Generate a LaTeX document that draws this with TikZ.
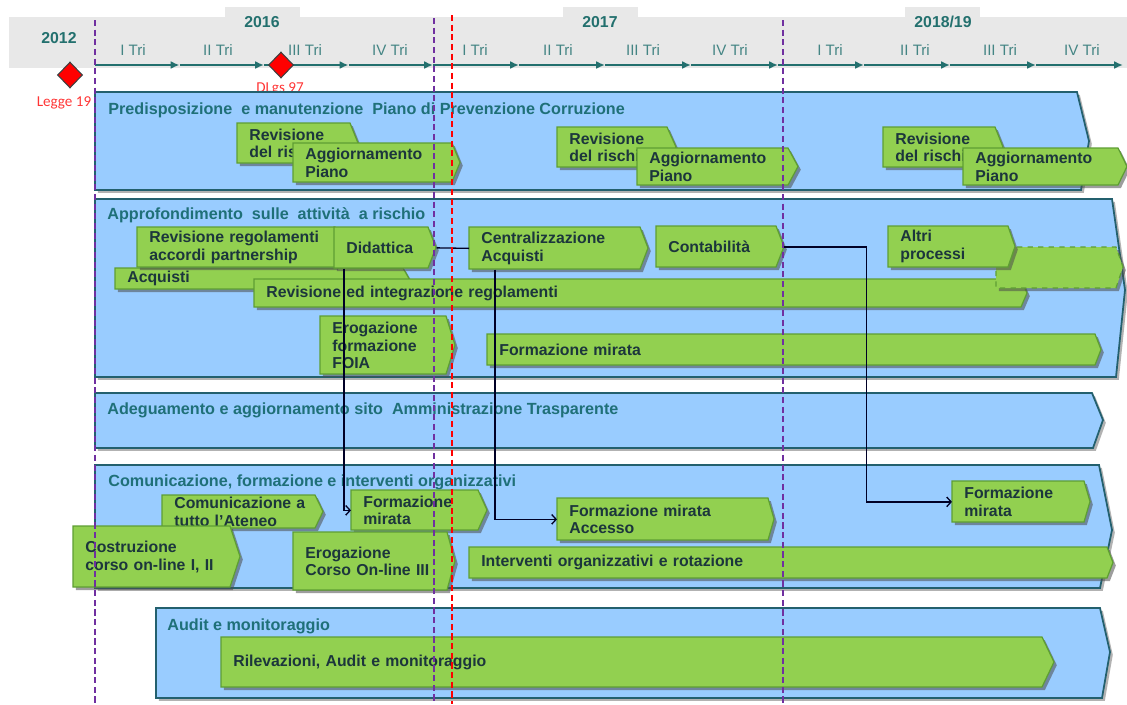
\documentclass[tikz,border=0pt]{standalone}
\usepackage{fontspec}
\setmainfont{Liberation Sans}
\newfontfamily\notefont{Carlito}
\usetikzlibrary{arrows.meta,calc,positioning,shapes.geometric,shadows}
\definecolor{panelblue}{HTML}{99CCFF}
\definecolor{paneledge}{HTML}{23606E}
\definecolor{titleteal}{HTML}{1F7078}
\definecolor{bargreen}{HTML}{92D050}
\definecolor{baredge}{HTML}{5E9E33}
\definecolor{bartext}{HTML}{1C363C}
\definecolor{headgray}{HTML}{E8E8E8}
\definecolor{axisteal}{HTML}{23706E}
\definecolor{cutpurple}{HTML}{7030A0}
\definecolor{legred}{HTML}{FF3535}
\hyphenpenalty=10000
\exhyphenpenalty=10000

\begin{document}
\begin{tikzpicture}[x=0.02cm,y=-0.02cm,
  panel/.style={fill=panelblue,draw=paneledge,line width=1pt,
    drop shadow={shadow xshift=1.6pt,shadow yshift=-1.6pt,fill=black!60,opacity=.5}},
  ptitle/.style={anchor=west,inner sep=0pt,text=titleteal,font=\fontsize{9.2}{10.4}\selectfont\bfseries},
  gbar/.style={fill=bargreen,draw=baredge,line width=.7pt,
    drop shadow={shadow xshift=1.6pt,shadow yshift=-1.8pt,fill=black!70,opacity=.55}},
  gtext/.style={anchor=north west,inner xsep=0.24cm,inner ysep=0pt,align=left,
    text=bartext,font=\fontsize{9}{10.2}\selectfont\bfseries},
  quarter/.style={text=axisteal!85,font=\fontsize{8.6}{10}\selectfont},
  year/.style={text=axisteal,font=\fontsize{9}{10}\selectfont\bfseries},
  milestone/.style={diamond,fill=red,draw=black!75,line width=.6pt,inner sep=0pt,
    minimum width=0.5cm,minimum height=0.52cm},
  lawnote/.style={text=legred,font=\notefont\fontsize{8.6}{10}\selectfont},
  cut/.style={line width=1.1pt,dash pattern=on 3.5pt off 2pt},
  link/.style={draw=black!85!blue,line width=.75pt},
  >={Straight Barb[length=2.5pt,width=5.5pt]}]
  \useasboundingbox (0,0) rectangle (1127,704);

  % header with years and quarters
  \fill[headgray] (9,17) rectangle (1127,68);
  \foreach \xa in {225,563,905}
    \fill[headgray] (\xa,7) rectangle ++(75,10);
  \node[year] (y12) at (59,38) {2012};
  \node[year] (y16) at (262,22) {2016};
  \node[year] (y17) at (600,22) {2017};
  \node[year] (y18) at (943,22) {2018/19};
  \foreach \xq/\lab [count=\i] in {133/I,218/II,305/III,390/IV,475/I,558/II,643/III,730/IV,830/I,915/II,1000/III,1082/IV}
    \node[quarter] (q\i) at (\xq,50) {\lab\ Tri};
  \foreach \xa/\xb in {95/179.5,179.5/264,264/348.5,348.5/433,433/519,519/605,605/691,691/778,778/864,864/950,950/1036,1036/1123}
    \draw[axisteal,line width=1.3pt,-{Latex[length=5pt,width=4.5pt]}] (\xa,65) -- (\xb,65);

  % milestones
  \node[lawnote] (dlgs) at (280,89) {DLgs 97};
  \node[lawnote] (legge) at (64,103) {Legge 19};
  \node[milestone] (m12) at (70,75) {};
  \node[milestone] (m16) at (281,65) {};

  % panels
  \draw[panel] (95,92) -- (1077,92) -- (1089,141) -- (1081,190) -- (95,190) -- cycle;
  \draw[panel] (95,199) -- (1112,199) -- (1125,290) -- (1116,377) -- (95,377) -- cycle;
  \draw[panel] (95,393) -- (1092,393) -- (1103,420) -- (1093,448) -- (95,448) -- cycle;
  \draw[panel] (95,465) -- (1099,465) -- (1112,530) -- (1100,588) -- (95,588) -- cycle;
  \draw[panel] (156,608) -- (1100,608) -- (1110,652) -- (1102,698) -- (156,698) -- cycle;
  \node[ptitle] (t1) at (108,110) {Predisposizione\ \ e manutenzione\ \ Piano di Prevenzione Corruzione};
  \node[ptitle] (t2) at (107,215) {Approfondimento\ \ sulle\ \ attività\ \ a rischio};
  \node[ptitle] (t3) at (107,410) {Adeguamento e aggiornamento sito\ \ Amministrazione Trasparente};
  \node[ptitle] (t4) at (108,482) {Comunicazione, formazione e interventi organizzativi};
  \node[ptitle] (t5) at (167,626) {Audit e monitoraggio};

  % activities
  \foreach \nm/\xa/\ya/\xb/\yb/\tp/\txt in {
    rev16/237/123/350/163/8/{Revisione\\del rischi},
    agg16/293/143/452/182/8/{Aggiornamento\\Piano},
    rev17/557/127/667/167/9/{Revisione\\del rischi},
    agg17/637/148/788/185/10/{Aggiornamento\\Piano},
    rev18/883/127/995/167/8/{Revisione\\del rischi},
    agg18/963/148/1118/185/9/{Aggiornamento\\Piano},
    acq/115/268/403/289/6/{Acquisti},
    revreg/137/227/335/267/8/{Revisione regolamenti\\accordi partnership},
    did/334/227/428/268/8/{Didattica},
    revint/254/279/1021/307/6/{Revisione ed integrazione regolamenti},
    central/469/227/640/269/8/{Centralizzazione\\Acquisti},
    contab/656/226/776/267/8/{Contabilità}}{
    \pgfmathsetmacro\barw{(\xb-\xa)*0.02}
    \pgfmathsetmacro\barh{(\yb-\ya)*0.02}
    \pgfmathsetmacro\txtw{(\xb-\xa)*0.02-0.48}
    \draw[gbar] (\xa,\ya) -- (\xb,\ya) -- (\xb+\tp,{(\ya+\yb)/2}) -- (\xb,\yb) -- (\xa,\yb) -- cycle;
    \node[gtext,minimum width=\barw cm,minimum height=\barh cm,text width=\txtw cm] (\nm) at (\xa,\ya) {\txt};
  }
  \draw[gbar,dashed] (996,247) -- (1116,247) -- (1123,267) -- (1116,288) -- (996,288) -- cycle;
  \foreach \nm/\xa/\ya/\xb/\yb/\tp/\txt in {
    altri/888/226/1008/267/7/{Altri\\processi},
    erofoia/320/316/446/374/9/{Erogazione\\formazione\\FOIA},
    formmir2/487/334/1095/365/6/{Formazione mirata},
    comunic/162/495/315/528/8/{Comunicazione~a\\tutto l'Ateneo},
    formmir1/351/490/478/530/9/{Formazione\\mirata},
    costr/73/526/230/587/10/{Costruzione\\corso on-line I, II},
    erocorso/293/532/447/590/8/{Erogazione\\Corso On-line III},
    accesso/557/498/768/540/6/{Formazione mirata\\Accesso},
    interv/469/547/1107/578/6/{Interventi organizzativi e rotazione},
    formmir3/952/481/1084/522/6/{Formazione\\mirata},
    rilev/221/637/1042/687/12/{Rilevazioni, Audit e monitoraggio}}{
    \pgfmathsetmacro\barw{(\xb-\xa)*0.02}
    \pgfmathsetmacro\barh{(\yb-\ya)*0.02}
    \pgfmathsetmacro\txtw{(\xb-\xa)*0.02-0.48}
    \draw[gbar] (\xa,\ya) -- (\xb,\ya) -- (\xb+\tp,{(\ya+\yb)/2}) -- (\xb,\yb) -- (\xa,\yb) -- cycle;
    \node[gtext,minimum width=\barw cm,minimum height=\barh cm,text width=\txtw cm] (\nm) at (\xa,\ya) {\txt};
  }

  % links between activities
  \draw[link] (did.east) ++(8,0) -- (central.west);
  \draw[link,->] (did.south west) ++(10,0) |- (formmir1.west);
  \draw[link,->] (central.south west) ++(26,0) |- (accesso.west);
  \draw[link,->] (contab.east) ++(7,0) -- ++(83,0) |- (formmir3.west);

  % reference dates
  \draw[cut,cutpurple] (95,20) -- (95,704);
  \draw[cut,cutpurple] (434,18) -- (434,704);
  \draw[cut,red] (452,15) -- (452,704);
  \draw[cut,cutpurple] (783,20) -- (783,704);
\end{tikzpicture}
\end{document}
